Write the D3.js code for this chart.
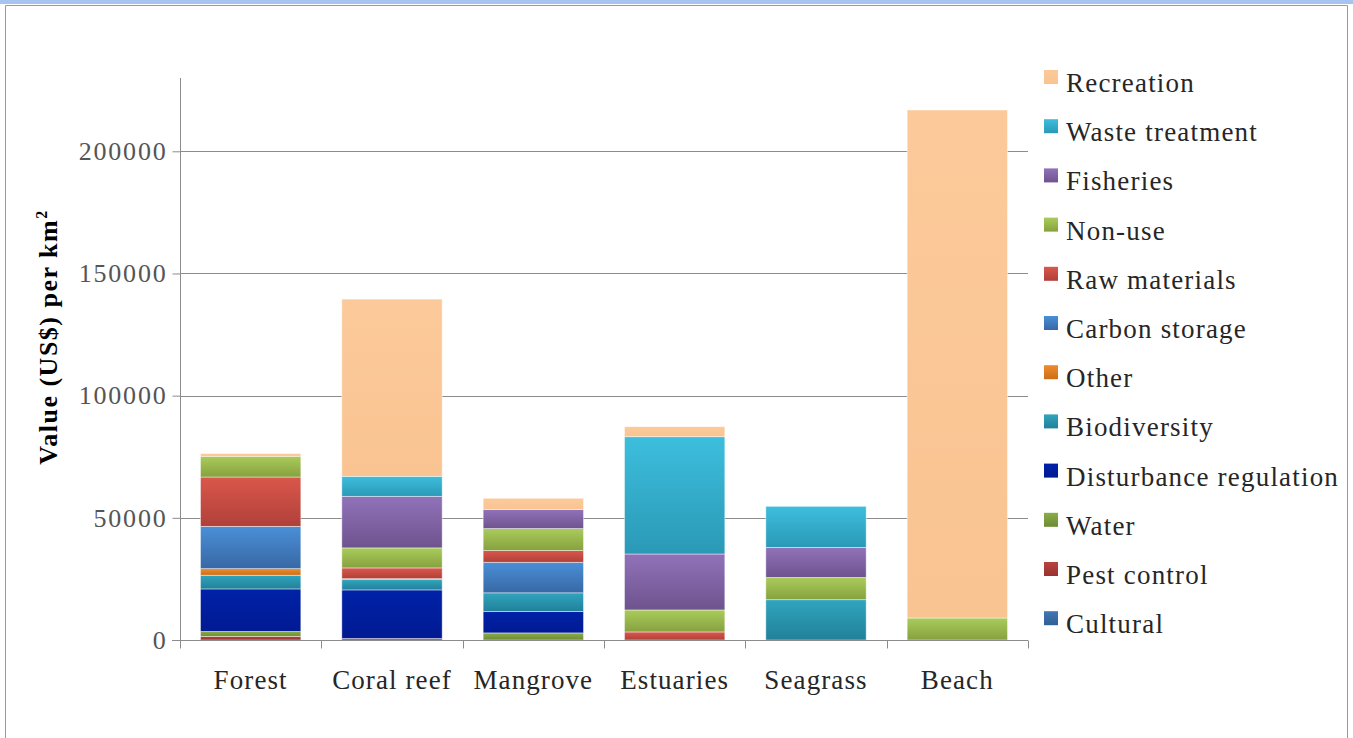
<!DOCTYPE html>
<html>
<meta charset="utf-8">
<script src="https://d3js.org/d3.v7.min.js"></script>
<style>
  body { margin: 0; background: #fff; }
  text { font-family: "Liberation Serif", "DejaVu Serif", serif; }
</style>
<body>
<div id="chart"></div>
<script>
// habitats along the x axis
const habitats = ["Forest", "Coral reef", "Mangrove", "Estuaries", "Seagrass", "Beach"]

// services, stacked bottom -> top
const services = ["Cultural", "Pest control", "Water", "Disturbance regulation", "Biodiversity", "Other",
                  "Carbon storage", "Raw materials", "Non-use", "Fisheries", "Waste treatment", "Recreation"]

// value (US$) per km2, one entry per habitat
const cultural       = [0, 0, 0, 0, 0, 0]
const pestControl    = [1500, 600, 0, 0, 0, 0]
const water          = [2000, 0, 2900, 0, 0, 0]
const disturbance    = [17400, 19900, 8800, 0, 0, 0]
const biodiversity   = [5600, 4200, 7600, 0, 16500, 0]
const other          = [2700, 400, 0, 0, 0, 0]
const carbonStorage  = [17300, 0, 12500, 0, 0, 0]
const rawMaterials   = [20200, 4400, 4800, 3300, 0, 0]
const nonUse         = [8500, 8200, 9000, 9000, 9100, 9000]
const fisheries      = [0, 21100, 7800, 22900, 12300, 0]
const wasteTreatment = [0, 8200, 0, 48000, 16800, 0]
const recreation     = [1100, 72500, 4600, 4100, 0, 207900]

const yTicks = [0, 50000, 100000, 150000, 200000]

const seriesValues = [cultural, pestControl, water, disturbance, biodiversity, other,
                      carbonStorage, rawMaterials, nonUse, fisheries, wasteTreatment, recreation]

// light (top) and dark (bottom) shade of each service
const topColors = ["#4277b5", "#b8433e", "#8aad48", "#0022a8", "#30a5bd", "#ef8c2c",
                   "#4a8fd8", "#da574b", "#aacc5b", "#9172b9", "#3dbedd", "#fcc99a"]
const bottomColors = ["#2f5f95", "#98332f", "#6e8b34", "#001a92", "#22809a", "#cc6e18",
                      "#3868a4", "#b0403a", "#86a13e", "#6e538e", "#2a99b6", "#f9c491"]

const width = 1353, height = 738
const margin = {top: 78, right: 325, bottom: 98, left: 180}

const svg = d3.select("#chart").append("svg")
    .attr("width", width)
    .attr("height", height)

// page frame
svg.append("rect").attr("x", 0).attr("y", 0).attr("width", width).attr("height", 4).attr("fill", "#a6c3f2")
svg.append("path")
    .attr("d", "M5.5," + height + "V5.5H1347.5V" + height)
    .attr("fill", "none").attr("stroke", "#9a9a9a").attr("stroke-width", 1)

const defs = svg.append("defs")
services.forEach(function(s, i) {
  let g = defs.append("linearGradient")
      .attr("id", "grad" + i)
      .attr("x1", 0).attr("y1", 0).attr("x2", 0).attr("y2", 1)
  g.append("stop").attr("offset", "0%").attr("stop-color", topColors[i])
  g.append("stop").attr("offset", "100%").attr("stop-color", bottomColors[i])
})

const x = d3.scaleBand()
    .domain(habitats)
    .range([margin.left, width - margin.right])
    .paddingInner(0.29)
    .paddingOuter(0.145)

const y = d3.scaleLinear()
    .domain([0, 230000])
    .range([height - margin.bottom, margin.top])

// gridlines
svg.append("g")
  .selectAll("line")
  .data(yTicks.slice(1))
  .join("line")
    .attr("x1", margin.left).attr("x2", width - margin.right)
    .attr("y1", d => Math.round(y(d)) + 0.5).attr("y2", d => Math.round(y(d)) + 0.5)
    .attr("stroke", "#8c8c8c")

// stacked data
const table = habitats.map(function(h, j) {
  let row = {habitat: h}
  services.forEach(function(s, i) { row[s] = seriesValues[i][j] })
  return row
})
const stacked = d3.stack().keys(services)(table)

svg.append("g")
  .selectAll("g")
  .data(stacked)
  .join("g")
    .attr("fill", (d, i) => "url(#grad" + i + ")")
  .selectAll("rect")
  .data(d => d.filter(p => p[1] - p[0] > 0))
  .join("rect")
    .attr("x", d => x(d.data.habitat))
    .attr("y", d => y(d[1]))
    .attr("width", x.bandwidth())
    .attr("height", d => y(d[0]) - y(d[1]))
    .attr("stroke", "rgba(255,255,255,0.55)")
    .attr("stroke-width", 0.8)

// y axis
const yAxis = svg.append("g")
    .attr("transform", "translate(" + (margin.left + 0.5) + ",0)")
    .call(d3.axisLeft(y).tickValues(yTicks).tickSize(8).tickPadding(5).tickFormat(d3.format("d")))
yAxis.select(".domain").attr("stroke", "#8c8c8c").attr("d", "M0," + margin.top + "V" + (height - margin.bottom))
yAxis.selectAll(".tick line").attr("stroke", "#8c8c8c")
yAxis.selectAll(".tick text")
    .attr("fill", "#555")
    .style("font-size", "26px")
    .style("letter-spacing", "1.8px")
    .style("font-family", "'Liberation Serif', serif")

// x axis
const xAxisY = Math.round(y(0)) + 0.5
const xg = svg.append("g")
xg.append("line")
    .attr("x1", margin.left - 8).attr("x2", width - margin.right)
    .attr("y1", xAxisY).attr("y2", xAxisY)
    .attr("stroke", "#8c8c8c")
const step = x.step()
xg.selectAll("line.tk")
  .data(d3.range(habitats.length + 1))
  .join("line")
    .attr("class", "tk")
    .attr("x1", i => Math.round(margin.left + i * step) + 0.5)
    .attr("x2", i => Math.round(margin.left + i * step) + 0.5)
    .attr("y1", xAxisY).attr("y2", xAxisY + 8)
    .attr("stroke", "#8c8c8c")
xg.selectAll("text")
  .data(habitats)
  .join("text")
    .attr("x", d => x(d) + x.bandwidth() / 2)
    .attr("y", 689)
    .attr("text-anchor", "middle")
    .attr("fill", "#262626")
    .style("font-size", "27px")
    .style("letter-spacing", "1.1px")
    .text(d => d)

// y title
const title = svg.append("text")
    .attr("transform", "translate(57,337) rotate(-90)")
    .attr("text-anchor", "middle")
    .attr("fill", "#000")
    .style("font-size", "26px")
    .style("font-weight", "bold")
    .style("letter-spacing", "1.5px")
title.append("tspan").text("Value (US$) per km")
title.append("tspan").attr("dy", -10).style("font-size", "16px").text("2")

// legend, top entry = last stacked series
const legendItems = services.map((s, i) => i).reverse()
const legend = svg.append("g")
  .selectAll("g")
  .data(legendItems)
  .join("g")
    .attr("transform", (d, k) => "translate(1044," + (70 + k * 49.2) + ")")
legend.append("rect")
    .attr("width", 14).attr("height", 14)
    .attr("fill", d => "url(#grad" + d + ")")
legend.append("text")
    .attr("x", 22).attr("y", 22)
    .attr("fill", "#262626")
    .style("font-size", "27px")
    .style("letter-spacing", "1.2px")
    .text(d => services[d])
</script>
</body>
</html>
